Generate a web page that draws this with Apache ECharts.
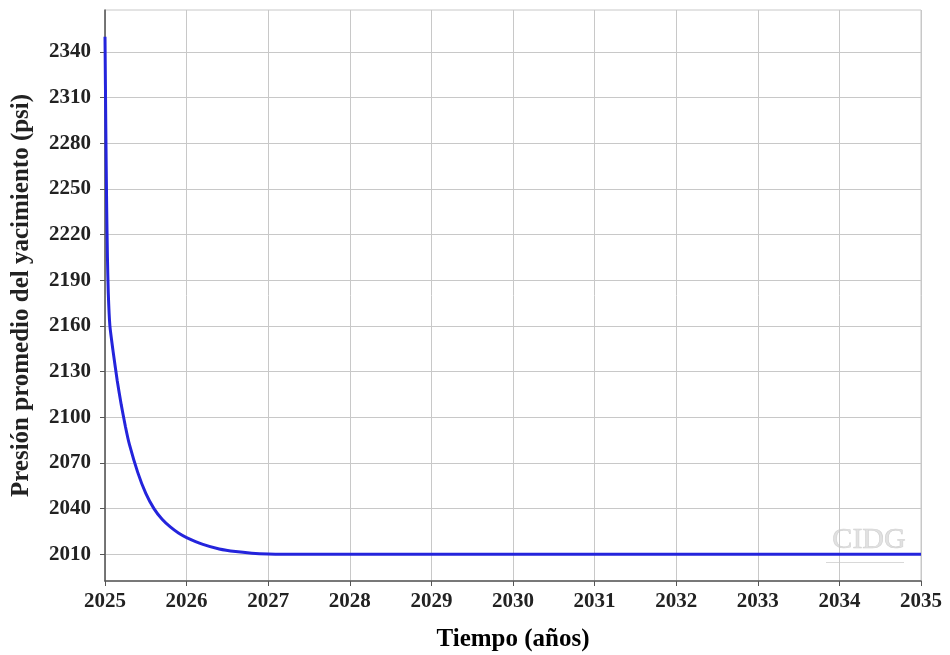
<!DOCTYPE html>
<html>
<head>
<meta charset="utf-8">
<script src="https://cdn.jsdelivr.net/npm/echarts@6/dist/echarts.min.js"></script>
<style>
  html, body { margin: 0; padding: 0; background: #fff; }
  #chart { width: 950px; height: 655px; }
</style>
</head>
<body>
<div id="chart"></div>
<script>
// tiempo (años) y presion promedio (psi)
var tiempo = [2025.0, 2025.01, 2025.02, 2025.03, 2025.04, 2025.06, 2025.1, 2025.15, 2025.2, 2025.25,
              2025.3, 2025.4, 2025.5, 2025.6, 2025.7, 2025.8, 2025.9, 2026.0, 2026.2, 2026.4,
              2026.6, 2026.8, 2027.0, 2027.3, 2028, 2030, 2032, 2034, 2035];
var presion = [2350, 2290, 2240, 2205, 2182, 2160, 2143, 2124, 2108, 2094,
               2082, 2064, 2050, 2040, 2033, 2028, 2024, 2021, 2016.5, 2013.5,
               2011.8, 2010.8, 2010.3, 2010, 2010, 2010, 2010, 2010, 2010];
var yTicks = [2010, 2040, 2070, 2100, 2130, 2160, 2190, 2220, 2250, 2280, 2310, 2340];

var serieData = [];
for (var i = 0; i < tiempo.length; i++) {
    serieData.push([tiempo[i], presion[i]]);
}

var myChart = echarts.init(document.getElementById('chart'));
var fuente = '"Liberation Serif", "Times New Roman", serif';
var option = {
    animation: false,
    grid: {
        left: 105,
        right: 29,
        top: 10,
        bottom: 74,
        outerBoundsMode: 'none',
        show: true,
        borderColor: '#c8c8c8',
        borderWidth: 1
    },
    xAxis: {
        type: 'value',
        min: 2025,
        max: 2035,
        interval: 1,
        name: 'Tiempo (años)',
        nameLocation: 'middle',
        nameGap: 46,
        nameTextStyle: { fontFamily: fuente, fontWeight: 'bold', fontSize: 25, color: '#000' },
        axisLine: { lineStyle: { color: '#555', width: 1.5 } },
        axisTick: { length: 5, lineStyle: { color: '#555' } },
        axisLabel: {
            fontFamily: fuente, fontWeight: 'bold', fontSize: 21, color: '#222', margin: 10,
            formatter: function (v) { return String(v); }
        },
        splitLine: { show: true, lineStyle: { color: '#c8c8c8', width: 1 } }
    },
    yAxis: {
        type: 'value',
        min: 1992.5,
        max: 2367.5,
        name: 'Presión promedio del yacimiento (psi)',
        nameLocation: 'middle',
        nameGap: 71,
        nameTextStyle: { fontFamily: fuente, fontWeight: 'bold', fontSize: 25, color: '#222' },
        axisLine: { show: true, lineStyle: { color: '#555', width: 1.5 } },
        axisTick: { show: true, length: 5, customValues: yTicks, lineStyle: { color: '#555' } },
        axisLabel: {
            fontFamily: fuente, fontWeight: 'bold', fontSize: 21, color: '#222', margin: 14,
            customValues: yTicks,
            formatter: function (v) { return String(v); }
        },
        splitLine: { show: true, lineStyle: { color: '#c8c8c8', width: 1 } }
    },
    graphic: [
        {
            type: 'text',
            right: 44,
            bottom: 100,
            style: {
                text: 'CIDG',
                fontFamily: fuente,
                fontSize: 30,
                fill: 'rgba(205,205,205,0.6)',
                stroke: 'rgba(170,170,170,0.5)',
                lineWidth: 0.6
            }
        },
        {
            type: 'rect',
            right: 46,
            bottom: 92,
            shape: { width: 78, height: 1 },
            style: { fill: 'rgba(190,190,190,0.6)' }
        }
    ],
    series: [
        {
            name: 'Presión',
            type: 'line',
            data: serieData,
            showSymbol: false,
            smooth: 0.2,
            lineStyle: { color: '#2424dc', width: 3 }
        }
    ]
};
myChart.setOption(option);
</script>
</body>
</html>
